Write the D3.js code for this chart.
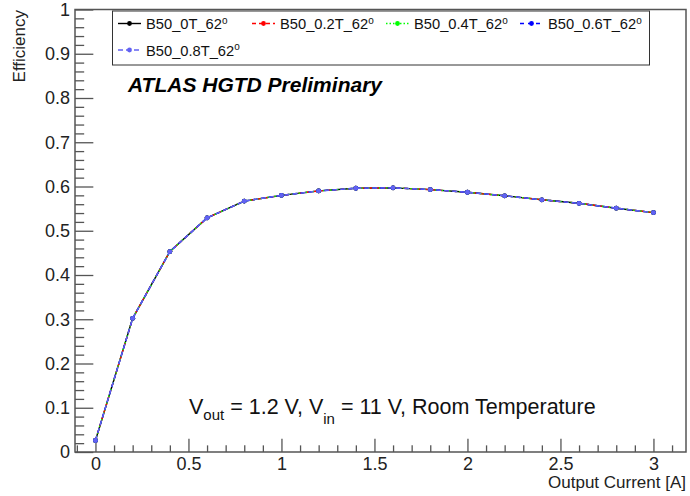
<!DOCTYPE html>
<html>
<head>
<meta charset="utf-8">
<script src="https://cdn.jsdelivr.net/npm/d3@7"></script>
<style>
  html, body { margin: 0; padding: 0; background: #fff; }
  svg { display: block; font-family: "Liberation Sans", Arial, sans-serif; }
</style>
</head>
<body>
<svg id="chart" width="690" height="496"></svg>
<script>
// ---------------- data ----------------
const outputCurrent = [0, 0.2, 0.4, 0.6, 0.8, 1.0, 1.2, 1.4, 1.6, 1.8, 2.0, 2.2, 2.4, 2.6, 2.8, 3.0];
const eff_B50_0T   = [0.026, 0.302, 0.453, 0.529, 0.567, 0.580, 0.590, 0.596, 0.597, 0.593, 0.587, 0.579, 0.570, 0.562, 0.551, 0.541];
const eff_B50_0p2T = [0.026, 0.302, 0.453, 0.529, 0.567, 0.580, 0.590, 0.596, 0.597, 0.593, 0.587, 0.579, 0.570, 0.562, 0.551, 0.541];
const eff_B50_0p4T = [0.026, 0.302, 0.453, 0.529, 0.567, 0.580, 0.590, 0.596, 0.597, 0.593, 0.587, 0.579, 0.570, 0.562, 0.551, 0.541];
const eff_B50_0p6T = [0.026, 0.302, 0.453, 0.529, 0.567, 0.580, 0.590, 0.596, 0.597, 0.593, 0.587, 0.579, 0.570, 0.562, 0.551, 0.541];
const eff_B50_0p8T = [0.026, 0.302, 0.453, 0.529, 0.567, 0.580, 0.590, 0.596, 0.597, 0.593, 0.587, 0.579, 0.570, 0.562, 0.551, 0.541];
const seriesNames  = ["B50_0T_62", "B50_0.2T_62", "B50_0.4T_62", "B50_0.6T_62", "B50_0.8T_62"];
const seriesValues = [eff_B50_0T, eff_B50_0p2T, eff_B50_0p4T, eff_B50_0p6T, eff_B50_0p8T];
const seriesColors = ["#000000", "#ff0000", "#00ff00", "#0000ff", "#6262f2"];
const seriesDashes = [null, "4,3", "1.5,2", "4,4", "5,3"];

const xTickValues = [0, 0.5, 1, 1.5, 2, 2.5, 3];
const xTickLabels = ["0", "0.5", "1", "1.5", "2", "2.5", "3"];
const yTickValues = [0, 0.1, 0.2, 0.3, 0.4, 0.5, 0.6, 0.7, 0.8, 0.9, 1];
const yTickLabels = ["0", "0.1", "0.2", "0.3", "0.4", "0.5", "0.6", "0.7", "0.8", "0.9", "1"];
const xMinorTicks = [-0.1, 0.1, 0.2, 0.3, 0.4, 0.6, 0.7, 0.8, 0.9, 1.1, 1.2, 1.3, 1.4, 1.6, 1.7, 1.8, 1.9, 2.1, 2.2, 2.3, 2.4, 2.6, 2.7, 2.8, 2.9, 3.1];
const yMinorTicks = [0.02,0.04,0.06,0.08,0.12,0.14,0.16,0.18,0.22,0.24,0.26,0.28,0.32,0.34,0.36,0.38,0.42,0.44,0.46,0.48,0.52,0.54,0.56,0.58,0.62,0.64,0.66,0.68,0.72,0.74,0.76,0.78,0.82,0.84,0.86,0.88,0.92,0.94,0.96,0.98];

// ---------------- layout ----------------
const svg = d3.select("#chart");
const L = 75, R = 686, T = 9.5, B = 452;
const x = d3.scaleLinear().domain([-0.11, 3.175]).range([L, R]);
const y = d3.scaleLinear().domain([0, 1]).range([B, T]);
const axisColor = "#555";
const xTickLen = 0.03 * (B - T), yTickLen = 0.03 * (R - L);

// minor ticks
svg.append("g").attr("transform", `translate(0,${B})`)
  .call(d3.axisBottom(x).tickValues(xMinorTicks).tickSize(-xTickLen / 2).tickFormat(""))
  .call(g => g.select(".domain").remove())
  .call(g => g.selectAll("line").attr("stroke", axisColor).attr("stroke-width", 1.3));
svg.append("g").attr("transform", `translate(${L},0)`)
  .call(d3.axisLeft(y).tickValues(yMinorTicks).tickSize(-yTickLen / 2).tickFormat(""))
  .call(g => g.select(".domain").remove())
  .call(g => g.selectAll("line").attr("stroke", axisColor).attr("stroke-width", 1.3));

// major ticks + labels
svg.append("g").attr("transform", `translate(0,${B})`)
  .call(d3.axisBottom(x).tickValues(xTickValues).tickSize(-xTickLen).tickPadding(5)
    .tickFormat((d, i) => xTickLabels[i]))
  .call(g => g.select(".domain").remove())
  .call(g => g.selectAll("line").attr("stroke", axisColor).attr("stroke-width", 1.3))
  .call(g => g.selectAll("text").attr("font-size", 18).attr("fill", "#222")
    .attr("font-family", "Liberation Sans, Arial, sans-serif"));
svg.append("g").attr("transform", `translate(${L},0)`)
  .call(d3.axisLeft(y).tickValues(yTickValues).tickSize(-yTickLen).tickPadding(5)
    .tickFormat((d, i) => yTickLabels[i]))
  .call(g => g.select(".domain").remove())
  .call(g => g.selectAll("line").attr("stroke", axisColor).attr("stroke-width", 1.3))
  .call(g => g.selectAll("text").attr("font-size", 18).attr("fill", "#222")
    .attr("font-family", "Liberation Sans, Arial, sans-serif"));

// frame
svg.append("rect").attr("x", L).attr("y", T).attr("width", R - L).attr("height", B - T)
  .attr("fill", "none").attr("stroke", axisColor).attr("stroke-width", 1.5);

// axis titles
svg.append("text").attr("transform", `translate(25,10) rotate(-90)`)
  .attr("text-anchor", "end").attr("font-size", 17).attr("fill", "#222").text("Efficiency");
svg.append("text").attr("x", 686).attr("y", 488).attr("text-anchor", "end")
  .attr("font-size", 17).attr("fill", "#222").text("Output Current [A]");

// series
const line = d3.line().x((d, i) => x(outputCurrent[i])).y(d => y(d));
seriesValues.forEach((vals, s) => {
  const g = svg.append("g");
  g.append("path").datum(vals).attr("d", line).attr("fill", "none")
    .attr("stroke", seriesColors[s]).attr("stroke-width", 1.4)
    .attr("stroke-dasharray", seriesDashes[s]);
  g.selectAll("circle").data(vals).join("circle")
    .attr("cx", (d, i) => x(outputCurrent[i])).attr("cy", d => y(d)).attr("r", 2.4)
    .attr("fill", seriesColors[s]);
});

// legend
svg.append("rect").attr("x", 112.5).attr("y", 11).attr("width", 537).attr("height", 54)
  .attr("fill", "#fff").attr("stroke", "#333").attr("stroke-width", 1);
const legPos = [[118, 23.5], [252, 23.5], [386, 23.5], [520, 23.5], [118, 50]];
seriesNames.forEach((name, s) => {
  const [lx, ly] = legPos[s];
  const g = svg.append("g");
  g.append("line").attr("x1", lx).attr("x2", lx + 23).attr("y1", ly).attr("y2", ly)
    .attr("stroke", seriesColors[s]).attr("stroke-width", 1.4)
    .attr("stroke-dasharray", seriesDashes[s]);
  g.append("circle").attr("cx", lx + 11.5).attr("cy", ly).attr("r", 2.4).attr("fill", seriesColors[s]);
  const t = g.append("text").attr("x", lx + 28).attr("y", ly + 5.5).attr("font-size", 14.7).attr("fill", "#111");
  t.append("tspan").text(name);
  t.append("tspan").attr("font-size", 10).attr("dy", -5.5).text("o");
});

// title
svg.append("text").attr("x", 128).attr("y", 92).attr("font-size", 21)
  .attr("font-weight", "bold").attr("font-style", "italic").attr("fill", "#000")
  .text("ATLAS HGTD Preliminary");

// annotation
const ann = svg.append("text").attr("x", 189).attr("y", 414).attr("font-size", 21.5).attr("fill", "#111");
ann.append("tspan").text("V");
ann.append("tspan").attr("font-size", 15).attr("dy", 6).text("out");
ann.append("tspan").attr("dy", -6).text(" = 1.2 V, V");
ann.append("tspan").attr("font-size", 15).attr("dy", 10).text("in");
ann.append("tspan").attr("dy", -10).text(" = 11 V, Room Temperature");
</script>
</body>
</html>
